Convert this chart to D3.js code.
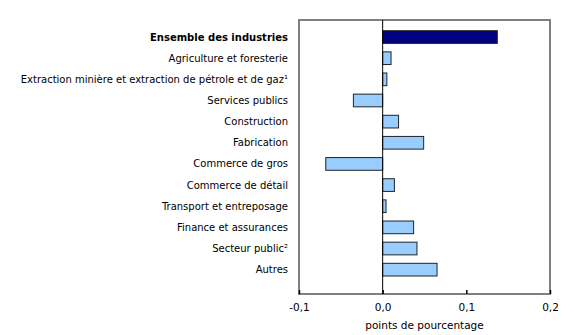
<!DOCTYPE html>
<html lang="fr">
<head>
  <meta charset="UTF-8">
  <title>Contribution par industrie</title>
  <style>
    body { margin: 0; background: #fff; }
    svg { font-family: 'DejaVu Sans', Verdana, sans-serif; font-size: 10px; }
    .label { fill: #000; }
    .tick text { fill: #000; }
  </style>
</head>
<body>
  <svg width="580" height="335"></svg>
  <script src="https://d3js.org/d3.v7.min.js"></script>
  <script>
    // industries, top to bottom
    var industries = [
      'Ensemble des industries',
      'Agriculture et foresterie',
      'Extraction minière et extraction de pétrole et de gaz¹',
      'Services publics',
      'Construction',
      'Fabrication',
      'Commerce de gros',
      'Commerce de détail',
      'Transport et entreposage',
      'Finance et assurances',
      'Secteur public²',
      'Autres'
    ];
    // points de pourcentage
    var values = [0.137, 0.010, 0.005, -0.035, 0.019, 0.049, -0.068, 0.014, 0.004, 0.037, 0.041, 0.065];
    var tickValues = [-0.1, 0, 0.1, 0.2];
    var axisTitle = 'points de pourcentage';

    var svg = d3.select('svg');
    var plotLeft = 299, plotRight = 550, plotTop = 20, plotBottom = 294;

    var x = d3.scaleLinear().domain([-0.1, 0.2]).range([plotLeft, plotRight]);
    var y = d3.scaleBand().domain(industries).range([30.7, 276]).paddingInner(0.4).paddingOuter(0);

    // frame
    svg.append('rect')
      .attr('x', plotLeft).attr('y', plotTop)
      .attr('width', plotRight - plotLeft).attr('height', plotBottom - plotTop)
      .attr('fill', 'none').attr('stroke', '#808080').attr('stroke-width', 2);

    // bars
    svg.selectAll('rect.bar')
      .data(values)
      .enter()
      .append('rect')
        .attr('class', 'bar')
        .attr('x', function(d) { return x(Math.min(0, d)); })
        .attr('y', function(d, i) { return y(industries[i]); })
        .attr('width', function(d) { return Math.abs(x(d) - x(0)); })
        .attr('height', y.bandwidth())
        .attr('fill', function(d, i) { return i === 0 ? '#000080' : '#99ccff'; })
        .attr('stroke', '#222')
        .attr('stroke-width', 1);

    // zero line
    svg.append('line')
      .attr('x1', x(0)).attr('x2', x(0))
      .attr('y1', plotTop).attr('y2', plotBottom)
      .attr('stroke', '#000').attr('stroke-width', 1);

    // category labels
    svg.selectAll('text.label')
      .data(industries)
      .enter()
      .append('text')
        .attr('class', 'label')
        .attr('x', plotLeft - 11)
        .attr('y', function(d) { return y(d) + y.bandwidth() / 2; })
        .attr('dy', '0.35em')
        .attr('text-anchor', 'end')
        .style('font-weight', function(d, i) { return i === 0 ? 'bold' : 'normal'; })
        .text(function(d) { return d; });

    // x axis
    var xAxis = d3.axisBottom(x)
      .tickValues(tickValues)
      .tickSize(-4)
      .tickPadding(10)
      .tickFormat(function(d) { return d3.format('.1f')(d).replace('.', ',').replace('\u2212', '-'); });

    var gx = svg.append('g')
      .attr('transform', 'translate(0,' + plotBottom + ')')
      .call(xAxis);
    gx.select('.domain').remove();
    gx.selectAll('.tick line').attr('stroke', '#000').attr('stroke-width', 1.5);
    gx.selectAll('.tick text').style('font-size', '10.5px').style('font-family', "'DejaVu Sans', Verdana, sans-serif");

    svg.append('text')
      .attr('x', x(0.05))
      .attr('y', 329)
      .attr('text-anchor', 'middle')
      .style('font-size', '10.5px')
      .text(axisTitle);
  </script>
</body>
</html>
